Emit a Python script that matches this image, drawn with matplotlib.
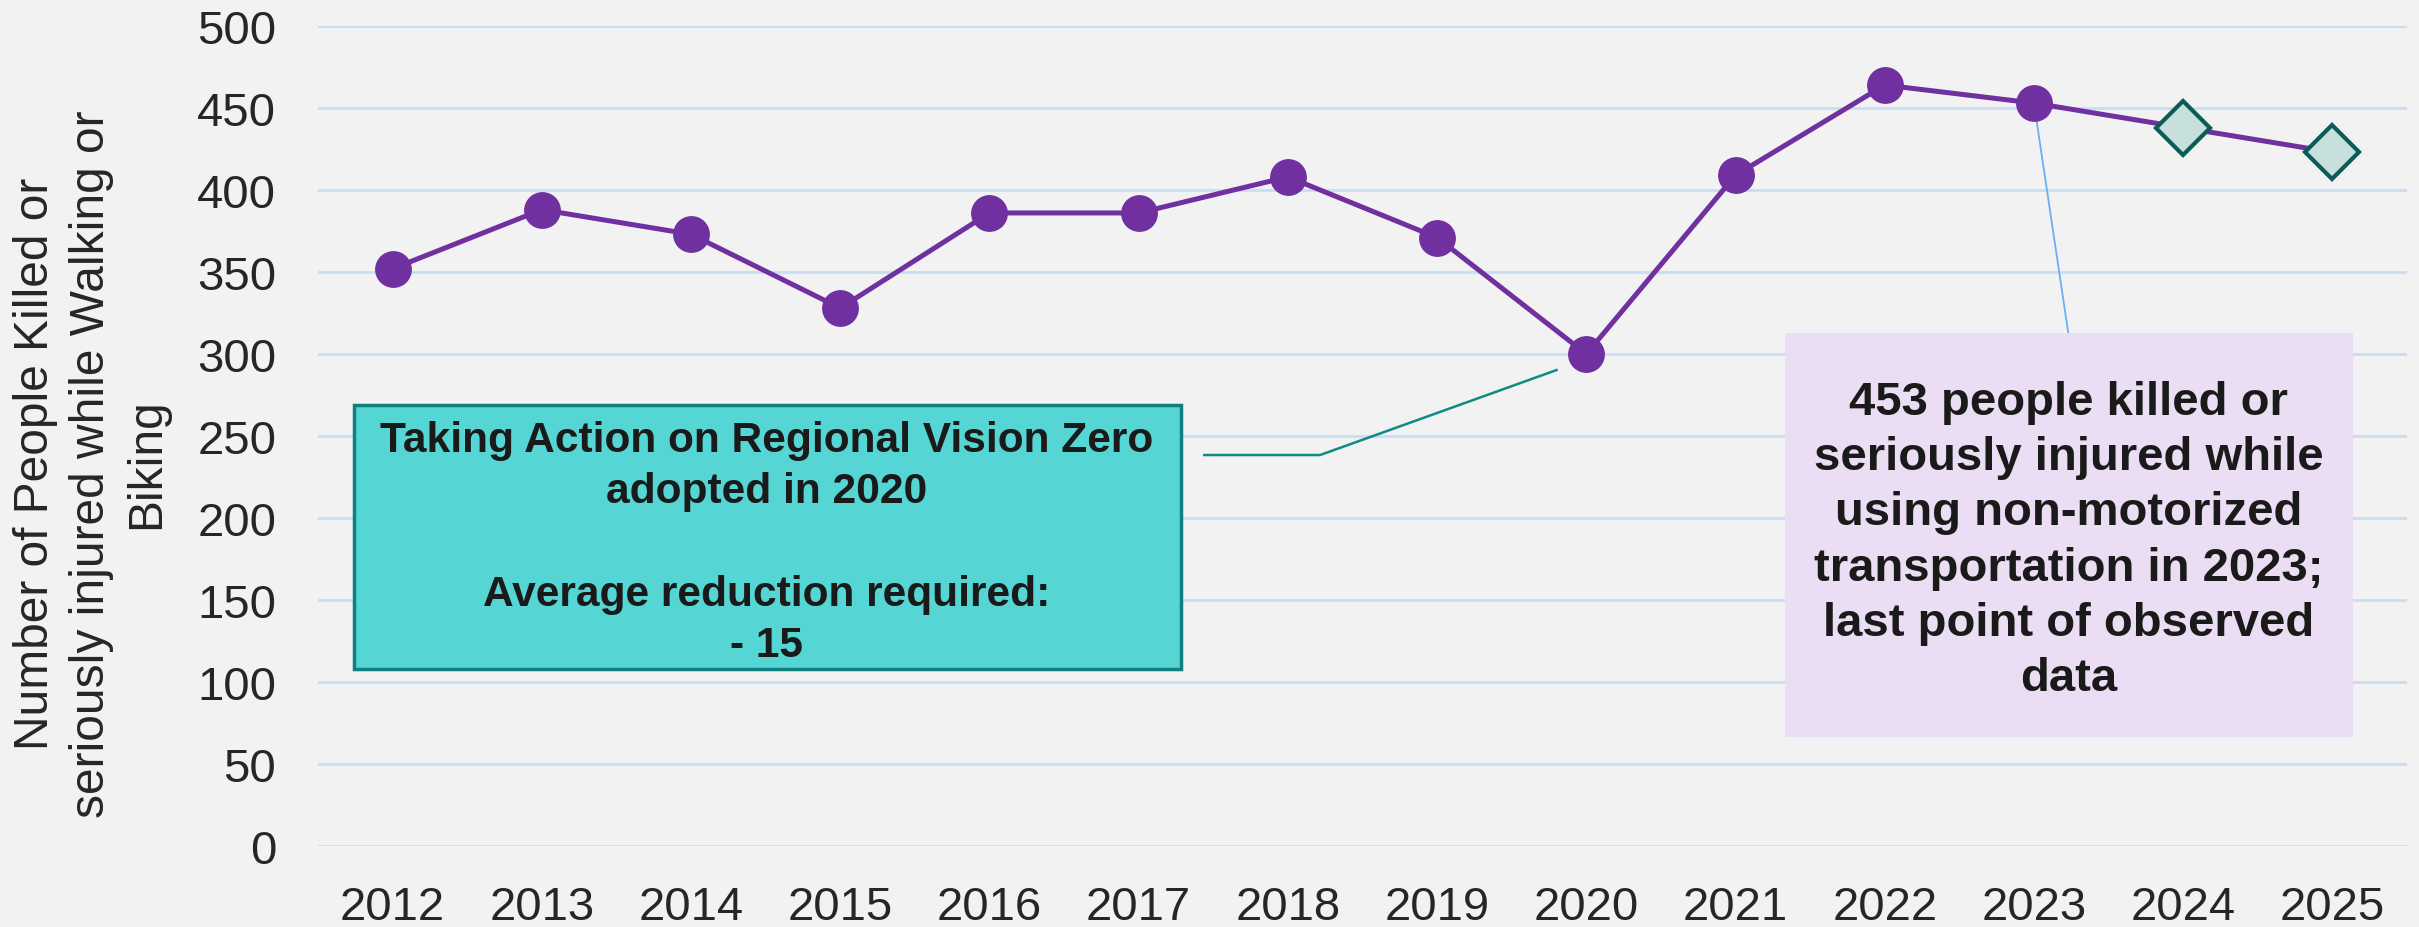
import matplotlib
matplotlib.use("Agg")
import matplotlib.pyplot as plt
from matplotlib.patches import Rectangle
import numpy as np

years = ["2012", "2013", "2014", "2015", "2016", "2017", "2018",
         "2019", "2020", "2021", "2022", "2023", "2024", "2025"]
observed = [352, 388, 373, 328, 386, 386, 408, 371, 300, 409, 464, 453]
projected = [438, 423]
y_ticks = [0, 50, 100, 150, 200, 250, 300, 350, 400, 450, 500]
ylabel = "Number of People Killed or\nseriously injured while Walking or\nBiking"
teal_text = "Taking Action on Regional Vision Zero\nadopted in 2020\n\nAverage reduction required:\n- 15"
purple_text = ("453 people killed or\nseriously injured while\nusing non-motorized\n"
               "transportation in 2023;\nlast point of observed\ndata")

plt.rcParams['font.family'] = ['Liberation Sans', 'DejaVu Sans']

W, H = 2419, 928
fig = plt.figure(figsize=(W / 100, H / 100), dpi=100)
bg = "#F2F2F2"
fig.patch.set_facecolor(bg)
ax = fig.add_axes([318 / W, 1 - 847 / H, (2407 - 318) / W, (847 - 27) / H])
ax.set_facecolor(bg)

x = np.arange(len(years))
all_vals = observed + projected
ax.plot(x, all_vals, color="#7030A0", lw=3.6, zorder=3)
nobs = len(observed)
ax.plot(x[:nobs], observed, ls="none", marker="o", ms=25.5,
        mfc="#7030A0", mec="#7030A0", zorder=4)
ax.plot(x[nobs:], projected, ls="none", marker="D", ms=27,
        mfc="#C7DFDD", mec="#0B5B57", mew=3, zorder=4)

ax.set_xlim(-0.5, len(years) - 0.5)
ax.set_ylim(0, 500)
ax.set_yticks(y_ticks)
ax.set_xticks(x)
ax.set_xticklabels(years)
ax.tick_params(axis="both", length=0, labelsize=34, labelcolor="#262626")
ax.tick_params(axis="y", pad=30)
ax.tick_params(axis="x", pad=28)
for s in ax.spines.values():
    s.set_visible(False)
ax.yaxis.grid(True, color="#C9DDF7", lw=2, zorder=0)
ax.set_axisbelow(True)

fig.text(91.5 / W, 1 - 464 / H, ylabel, rotation=90, ha="center", va="center",
         multialignment="center", fontsize=34.5, color="#262626", linespacing=1.3)

# Teal annotation box
ax.add_patch(Rectangle((-0.26, 107.9), 5.285 + 0.26, 268.9 - 107.9,
                       facecolor="#55D6D4", edgecolor="#0F7F7F", lw=2.5,
                       zorder=5, clip_on=False))
ax.text(2.506, 185.1, teal_text, ha="center", va="center", multialignment="center",
        fontsize=30.6, fontweight="bold", color="#1A1A1A", linespacing=1.36,
        zorder=6)
ax.plot([5.44, 6.216, 7.80], [238.4, 238.4, 290.2], color="#0F8A84", lw=1.8,
        zorder=5, clip_on=False)

# Purple annotation box
ax.add_patch(Rectangle((9.33, 66.5), 13.14 - 9.33, 312.8 - 66.5,
                       facecolor="#EBDDF3", edgecolor="none", zorder=5,
                       clip_on=False))
ax.text(11.232, 186.6, purple_text, ha="center", va="center", multialignment="center",
        fontsize=34, fontweight="bold", color="#1A1A1A", linespacing=1.33,
        zorder=6)
ax.plot([11, 11.23], [453, 312.8], color="#6AAEF5", lw=1.3, zorder=3.5)

fig.savefig("out.png", dpi=100, facecolor=bg)
